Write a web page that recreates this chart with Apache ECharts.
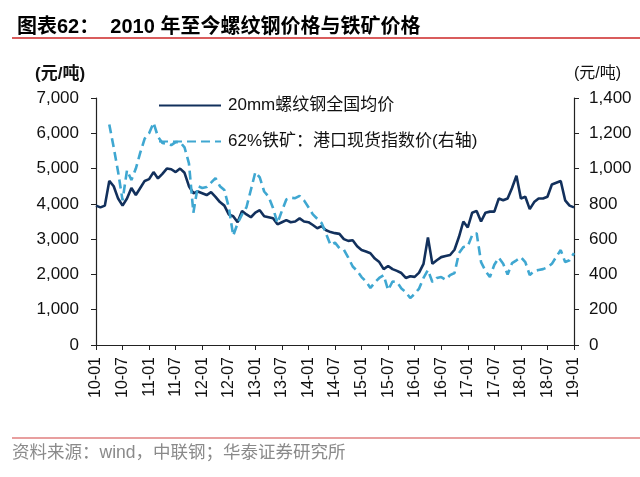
<!DOCTYPE html>
<html>
<head>
<meta charset="utf-8">
<script src="https://cdn.jsdelivr.net/npm/echarts@6/dist/echarts.min.js"></script>
<style>
  html, body { margin: 0; padding: 0; background: #fff; }
  #chart { width: 640px; height: 477px; }
</style>
</head>
<body>
<div id="chart"></div>
<script>
// 月度数据 2010-01 ~ 2019-01
var months = [];
for (var y = 10; y <= 19; y++) {
    for (var m = 1; m <= 12; m++) {
        if (y == 19 && m > 1) break;
        months.push(y + '-' + (m < 10 ? '0' + m : m));
    }
}

// 20mm螺纹钢全国均价 (元/吨, 左轴)
var rebar = [
    3950, 3900, 3950, 4650, 4500, 4150, 3950, 4150, 4450, 4250, 4450, 4650,
    4700, 4900, 4720, 4850, 5000, 4980, 4900, 5000, 4880, 4500, 4300, 4350,
    4300, 4250, 4330, 4200, 4050, 3950, 3700, 3650, 3480, 3800, 3700, 3620,
    3750, 3820, 3650, 3620, 3590, 3420, 3480, 3540, 3480, 3500, 3590, 3500,
    3480, 3400, 3310, 3370, 3250, 3200, 3170, 3150, 3000, 2950, 2970, 2800,
    2690, 2650, 2600, 2450, 2350, 2150, 2240, 2150, 2100, 2040, 1900, 1950,
    1930, 2050, 2300, 3050, 2300, 2400, 2490, 2520, 2550, 2700, 3060, 3500,
    3330, 3750, 3800, 3500, 3750, 3780, 3780, 4150, 4100, 4150, 4450, 4800,
    4150, 4200, 3850, 4050, 4150, 4150, 4200, 4550, 4600, 4650, 4100, 3950,
    3900
];

// 62%铁矿：港口现货指数价 (元/吨, 右轴)
var ore = [
    null, null, null, 1250, 1120, 980, 820, 990, 935, 1000, 1090, 1170,
    1200, 1260, 1180, 1145, 1140, 1133, 1150, 1150, 1120, 1030, 750, 900,
    890, 895, 920, 946, 900, 878, 781, 620, 690, 740, 781, 880,
    980, 950, 870, 840, 776, 691, 760, 825, 835, 832, 845, 820,
    781, 740, 715, 690, 630, 566, 580, 549, 540, 495, 445, 420,
    385, 360, 323, 355, 380, 396, 311, 360, 357, 320, 300, 266,
    290, 320, 380, 425, 357, 380, 385, 370, 396, 408, 520, 555,
    560, 623, 634, 470, 420, 385, 455, 495, 460, 400, 464, 480,
    498, 470, 396, 420, 425, 430, 440, 460, 500, 538, 470, 480,
    521
];

var leftTicks = [0, 1000, 7000];
var rightTicks = [0, 200, 1400];

var myChart = echarts.init(document.getElementById('chart'));

var numFont = 'Liberation Sans, Arial, sans-serif';
var cnFont = 'Liberation Sans, Noto Sans CJK SC, sans-serif';

function fmt(v) {
    return v.toLocaleString('en-US');
}

var option = {
    animation: false,
    title: {
        text: '图表62：  2010 年至今螺纹钢价格与铁矿价格',
        left: 12,
        top: 12,
        textStyle: {
            fontSize: 20,
            fontWeight: 'bold',
            color: '#000',
            fontFamily: cnFont
        }
    },
    legend: {
        orient: 'vertical',
        left: 153,
        top: 92,
        itemWidth: 62,
        itemHeight: 14,
        itemGap: 19,
        itemStyle: { opacity: 0 },
        textStyle: {
            fontSize: 17,
            color: '#111',
            fontFamily: cnFont,
            padding: [0, 0, 0, 2]
        },
        data: ['20mm螺纹钢全国均价', '62%铁矿：港口现货指数价(右轴)']
    },
    grid: {
        left: 96,
        right: 66,
        top: 98,
        bottom: 132
    },
    xAxis: {
        type: 'category',
        boundaryGap: false,
        data: months,
        axisLine: { lineStyle: { color: '#222', width: 1.2 } },
        axisTick: { interval: 5, length: 5, lineStyle: { color: '#222' } },
        axisLabel: {
            interval: 5,
            rotate: 90,
            fontSize: 16,
            color: '#111',
            fontFamily: numFont,
            margin: 12
        }
    },
    yAxis: [
        {
            type: 'value',
            min: leftTicks[0],
            max: leftTicks[2],
            interval: leftTicks[1],
            splitLine: { show: false },
            axisLine: { show: true, lineStyle: { color: '#222', width: 1.2 } },
            axisTick: { show: true, length: 5, lineStyle: { color: '#222' } },
            axisLabel: {
                fontSize: 17,
                color: '#111',
                fontFamily: numFont,
                margin: 17,
                formatter: fmt
            }
        },
        {
            type: 'value',
            min: rightTicks[0],
            max: rightTicks[2],
            interval: rightTicks[1],
            splitLine: { show: false },
            axisLine: { show: true, lineStyle: { color: '#222', width: 1.2 } },
            axisTick: { show: true, length: 5, lineStyle: { color: '#222' } },
            axisLabel: {
                fontSize: 17,
                color: '#111',
                fontFamily: numFont,
                margin: 15,
                formatter: fmt
            }
        }
    ],
    graphic: [
        {
            type: 'line',
            shape: { x1: 12, y1: 38, x2: 640, y2: 38 },
            style: { stroke: '#d95c5c', lineWidth: 1.8 }
        },
        {
            type: 'line',
            shape: { x1: 12, y1: 438, x2: 640, y2: 438 },
            style: { stroke: '#e07f7f', lineWidth: 1.5 }
        },
        {
            type: 'text',
            left: 35,
            top: 66,
            style: {
                text: '(元/吨)',
                font: 'bold 17px ' + cnFont,
                fill: '#111'
            }
        },
        {
            type: 'text',
            left: 574,
            top: 66,
            style: {
                text: '(元/吨)',
                font: '16px ' + cnFont,
                fill: '#111'
            }
        },
        {
            type: 'text',
            left: 12,
            top: 444,
            style: {
                text: '资料来源：wind，中联钢；华泰证券研究所',
                font: '17.5px ' + cnFont,
                fill: '#8a8a8a'
            }
        }
    ],
    series: [
        {
            name: '20mm螺纹钢全国均价',
            type: 'line',
            yAxisIndex: 0,
            data: rebar,
            symbol: 'none',
            lineStyle: { color: '#12305c', width: 2.6 },
            itemStyle: { color: '#12305c' }
        },
        {
            name: '62%铁矿：港口现货指数价(右轴)',
            type: 'line',
            yAxisIndex: 1,
            data: ore,
            symbol: 'none',
            lineStyle: { color: '#3fa7d1', width: 2.6, type: [9, 5] },
            itemStyle: { color: '#3fa7d1' }
        }
    ]
};

myChart.setOption(option);
</script>
</body>
</html>
